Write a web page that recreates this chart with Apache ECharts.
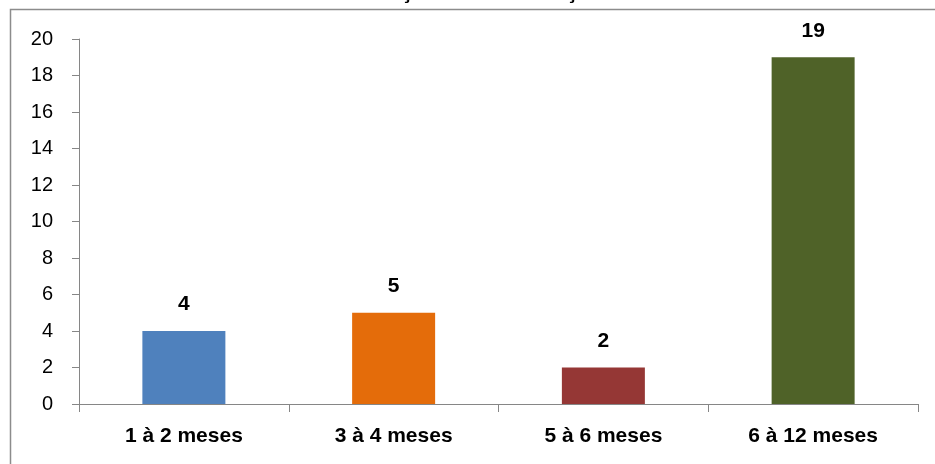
<!DOCTYPE html>
<html>
<head>
<meta charset="utf-8">
<script src="https://cdn.jsdelivr.net/npm/echarts@6/dist/echarts.min.js"></script>
<style>
  html, body { margin: 0; padding: 0; background: #fff; }
  #chart { width: 935px; height: 464px; }
</style>
</head>
<body>
<div id="chart"></div>
<script>
// Age ranges and counts per range
const categories = ['1 à 2 meses', '3 à 4 meses', '5 à 6 meses', '6 à 12 meses'];
const counts = [4, 5, 2, 19];
const barColors = ['#4F81BD', '#E46C0A', '#953735', '#4F6228'];
const chartTitle = 'Introdução da alimentação';

const FONT = '"Liberation Sans", Arial, sans-serif';
const chart = echarts.init(document.getElementById('chart'), null, { renderer: 'canvas' });

chart.setOption({
  animation: false,
  backgroundColor: '#ffffff',
  graphic: [
    {
      type: 'rect',
      shape: { x: 10.5, y: 9.5, width: 940, height: 470 },
      style: { fill: 'none', stroke: '#8c8c8c', lineWidth: 1.5 },
      z: 0
    },
    {
      type: 'text',
      x: 325, y: -8,
      style: {
        text: chartTitle,
        font: 'bold 22px ' + FONT,
        fill: '#000',
        verticalAlign: 'middle'
      }
    }
  ],
  grid: { left: 79, right: 17, top: 39, bottom: 60 },
  xAxis: {
    type: 'category',
    data: categories,
    axisLine: { lineStyle: { color: '#868686', width: 1 } },
    axisTick: { show: true, length: 8, lineStyle: { color: '#868686' } },
    axisLabel: {
      color: '#000', fontFamily: FONT, fontWeight: 'bold', fontSize: 21, margin: 22
    }
  },
  yAxis: {
    type: 'value',
    min: 0, max: 20, interval: 2,
    splitLine: { show: false },
    axisLine: { show: true, lineStyle: { color: '#868686', width: 1 } },
    axisTick: { show: true, length: 7, lineStyle: { color: '#868686' } },
    axisLabel: { color: '#000', fontFamily: FONT, fontSize: 20, margin: 26 }
  },
  series: [{
    type: 'bar',
    barWidth: 83,
    data: counts.map((v, i) => ({ value: v, itemStyle: { color: barColors[i] } })),
    label: {
      show: true, position: 'top', distance: 16,
      color: '#000', fontFamily: FONT, fontWeight: 'bold', fontSize: 21
    }
  }]
});
</script>
</body>
</html>
